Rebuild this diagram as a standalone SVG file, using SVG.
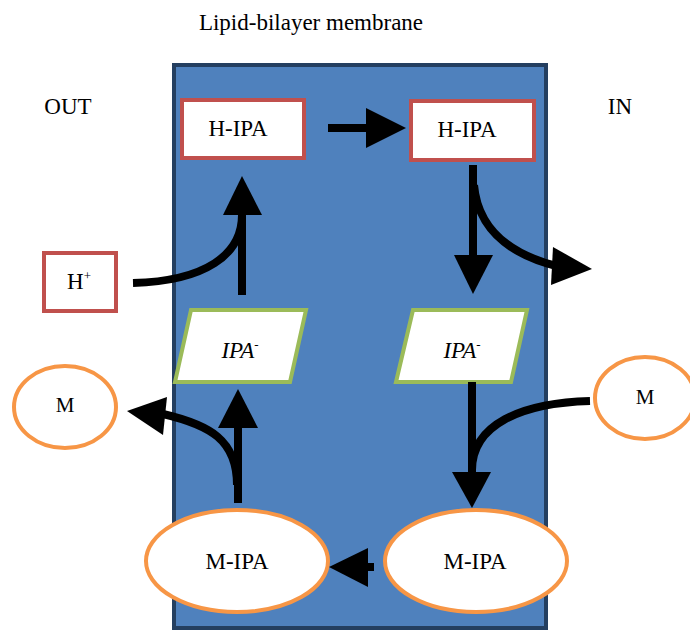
<svg xmlns="http://www.w3.org/2000/svg" width="690" height="630" viewBox="0 0 690 630">
<defs>
<style>
text{font-family:"Liberation Serif","DejaVu Serif","Times New Roman",serif;fill:#000;text-anchor:middle}
.box{fill:#fff;stroke:#C0504D;stroke-width:4}
.para{fill:#fff;stroke:#9BBB59;stroke-width:4}
.ell{fill:#fff;stroke:#F79646;stroke-width:4}
.ln{fill:none;stroke:#000;stroke-width:8}
.hd{fill:#000}
</style>
</defs>
<rect width="690" height="630" fill="#fff"/>
<text x="311" y="30" font-size="23">Lipid-bilayer membrane</text>
<text x="68" y="114" font-size="23">OUT</text>
<text x="620" y="114" font-size="23">IN</text>
<g id="membrane"><rect x="174" y="65" width="372" height="563" fill="#4F81BD" stroke="#243F60" stroke-width="4"/></g>
<g id="hipa-out"><rect class="box" x="182" y="100" width="122" height="58"/><text x="238" y="136" font-size="23">H-IPA</text></g>
<g id="hipa-in"><rect class="box" x="411" y="101" width="123" height="59"/><text x="467" y="137" font-size="23">H-IPA</text></g>
<g id="hplus"><rect class="box" x="44" y="253" width="72" height="58"/><text x="79" y="289" font-size="23">H<tspan font-size="13" dy="-9">+</tspan></text></g>
<g id="ipa-out"><polygon class="para" points="191,310 306,310 290,382 175,382"/><text x="240" y="358" font-size="23" font-style="italic">IPA<tspan font-size="13" dy="-9">-</tspan></text></g>
<g id="ipa-in"><polygon class="para" points="413,310 527,310 511,382 396,382"/><text x="462" y="358" font-size="23" font-style="italic">IPA<tspan font-size="13" dy="-9">-</tspan></text></g>
<g id="m-out"><ellipse class="ell" cx="65" cy="407" rx="51" ry="41"/><text x="65" y="412" font-size="21">M</text></g>
<g id="m-in"><ellipse class="ell" cx="645" cy="398" rx="50" ry="41"/><text x="645" y="404" font-size="21">M</text></g>
<g id="mipa-out"><ellipse class="ell" cx="237" cy="561" rx="91" ry="51"/><text x="237" y="569" font-size="23">M-IPA</text></g>
<g id="mipa-in"><ellipse class="ell" cx="476" cy="561" rx="91" ry="51"/><text x="475" y="569" font-size="23">M-IPA</text></g>
<g id="connectors">
<line class="ln" x1="328" y1="128" x2="368" y2="128"/>
<polygon class="hd" points="366,108 406,128 366,148"/>
<line class="ln" x1="242" y1="295" x2="242" y2="212"/>
<polygon class="hd" points="223,215 242,176 262,215"/>
<path class="ln" d="M133,283 C205,281 242,255 242,215"/>
<line class="ln" x1="473" y1="165" x2="473" y2="258"/>
<polygon class="hd" points="454,255 493,255 473,294"/>
<path class="ln" d="M474,185 C478,230 510,255 560,267"/>
<polygon class="hd" points="553,247 592,269 551,285"/>
<line class="ln" x1="238" y1="503" x2="238" y2="425"/>
<polygon class="hd" points="218,428 238,389 258,428"/>
<path class="ln" d="M237,485 C237,440 210,425 163,414"/>
<polygon class="hd" points="167,397 127,411 163,435"/>
<line class="ln" x1="472" y1="382" x2="472" y2="475"/>
<polygon class="hd" points="452,472 491,472 472,508"/>
<path class="ln" d="M590,401 C520,403 472,425 472,470"/>
<line class="ln" x1="365" y1="567" x2="374" y2="567"/>
<polygon class="hd" points="368,548 368,587 329,567"/>
</g>
</svg>
